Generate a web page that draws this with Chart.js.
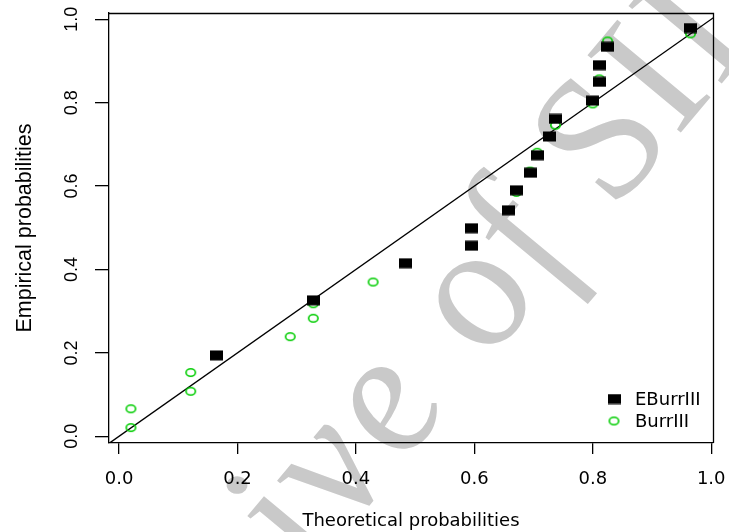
<!DOCTYPE html>
<html><head><meta charset="utf-8">
<script src="https://cdn.jsdelivr.net/npm/chart.js@4/dist/chart.umd.min.js"></script>
<style>html,body{margin:0;padding:0;background:#fff;} canvas{display:block;}</style>
</head><body>
<canvas id="c" width="729" height="532"></canvas>
<script>
// ---- data ----
const seriesNames = ['EBurrIII', 'BurrIII'];
const eburrX = [0.164, 0.328, 0.484, 0.595, 0.595, 0.658, 0.671, 0.694, 0.706, 0.727, 0.737, 0.800, 0.811, 0.811, 0.825, 0.965];
const eburrY = [0.194, 0.326, 0.415, 0.457, 0.499, 0.542, 0.590, 0.632, 0.674, 0.719, 0.761, 0.805, 0.850, 0.890, 0.934, 0.979];
const burrX = [0.020, 0.020, 0.121, 0.121, 0.289, 0.328, 0.328, 0.429, 0.671, 0.694, 0.706, 0.737, 0.800, 0.811, 0.825, 0.965];
const burrY = [0.021, 0.066, 0.108, 0.153, 0.239, 0.283, 0.318, 0.370, 0.585, 0.636, 0.681, 0.746, 0.797, 0.857, 0.948, 0.965];
const refLineX = [-0.05, 1.05];
const refLineY = [-0.05, 1.05];
const tickValues = [0, 0.2, 0.4, 0.6, 0.8, 1.0];
const tickLabels = ['0.0', '0.2', '0.4', '0.6', '0.8', '1.0'];
const xTitle = 'Theoretical probabilities';
const yTitle = 'Empirical probabilities';
const watermarkText = 'Archive of SID';

// ---- marker images ----
function makeSquare() {
  const c = document.createElement('canvas'); c.width = 13; c.height = 11;
  const g = c.getContext('2d'); g.fillStyle = '#000'; g.fillRect(0, 0.5, 13, 10); return c;
}
function makeRing() {
  const c = document.createElement('canvas'); c.width = 13; c.height = 11;
  const g = c.getContext('2d'); g.strokeStyle = '#00CD00'; g.lineWidth = 1.6;
  g.beginPath(); g.ellipse(6.5, 5.5, 4.7, 3.7, 0, 0, Math.PI * 2); g.stroke(); return c;
}
const sqImg = makeSquare();
const ringImg = makeRing();

const watermarkPlugin = {
  id: 'wm',
  beforeDraw(chart) {
    const ctx = chart.ctx;
    ctx.save();
    ctx.fillStyle = '#fff'; ctx.fillRect(0, 0, chart.width, chart.height);
    const size = 165;
    ctx.font = 'italic ' + size + 'px "Liberation Serif"';
    try { ctx.letterSpacing = '6px'; } catch (e) {}
    const wPre = ctx.measureText('Archive ').width;
    const wo = ctx.measureText('o').width;
    ctx.translate(483, 303);
    ctx.scale(1.2, 1);
    ctx.rotate(-55 * Math.PI / 180);
    ctx.fillStyle = '#c9c9c9';
    ctx.textBaseline = 'alphabetic';
    ctx.fillText(watermarkText, -(wPre + wo / 2 - 3), 0.45 * size / 2);
    ctx.restore();
  }
};

const boxPlugin = {
  id: 'box',
  beforeDatasetsDraw(chart) {
    const a = chart.chartArea, ctx = chart.ctx;
    ctx.save(); ctx.strokeStyle = '#000'; ctx.lineWidth = 1.3;
    ctx.beginPath();
    ctx.moveTo(a.left, a.top + 0.5); ctx.lineTo(a.right + 0.5, a.top + 0.5);
    ctx.lineTo(a.right + 0.5, a.bottom);
    ctx.stroke(); ctx.restore();
  }
};

const legendPlugin = {
  id: 'rlegend',
  afterDraw(chart) {
    const ctx = chart.ctx;
    ctx.save();
    ctx.drawImage(sqImg, 614 - 6.5, 399 - 5.5);
    ctx.drawImage(ringImg, 614 - 6.5, 421 - 5.5);
    ctx.fillStyle = '#000';
    ctx.font = '18px "DejaVu Sans"';
    ctx.textBaseline = 'middle'; ctx.textAlign = 'left';
    ctx.fillText(chart.data.datasets[0].label, 635, 400);
    ctx.fillText(chart.data.datasets[1].label, 635, 422);
    ctx.restore();
  }
};

function zeroPad(s) { s.paddingLeft = 0; s.paddingRight = 0; s.paddingTop = 0; s.paddingBottom = 0; }

new Chart(document.getElementById('c'), {
  type: 'scatter',
  data: {
    datasets: [
      { label: seriesNames[0], data: eburrX.map((x, i) => ({ x, y: eburrY[i] })),
        pointStyle: sqImg, pointRadius: 6, pointHoverRadius: 6 },
      { label: seriesNames[1], data: burrX.map((x, i) => ({ x, y: burrY[i] })),
        pointStyle: ringImg, pointRadius: 6, pointHoverRadius: 6 },
      { label: 'y = x', data: refLineX.map((x, i) => ({ x, y: refLineY[i] })),
        showLine: true, borderColor: '#000', borderWidth: 1.3, pointRadius: 0, fill: false }
    ]
  },
  options: {
    responsive: false, animation: false, devicePixelRatio: 1,
    layout: { padding: { left: 0, top: 13, right: 16, bottom: 0 } },
    plugins: { legend: { display: false }, tooltip: { enabled: false } },
    scales: {
      x: {
        type: 'linear', position: 'bottom', min: -0.017, max: 1.003,
        afterBuildTicks: s => { s.ticks = tickValues.map(v => ({ value: v })); },
        afterFit: s => { s.height = 89; zeroPad(s); },
        ticks: { callback: (v, i) => tickLabels[i], font: { family: 'DejaVu Sans', size: 18 }, color: '#000',
                 padding: 15, autoSkip: false, minRotation: 0, maxRotation: 0 },
        grid: { drawOnChartArea: false, drawTicks: true, tickLength: 11, color: '#000', lineWidth: 1.3 },
        border: { display: true, color: '#000', width: 1.3 },
        title: { display: true, text: xTitle, font: { family: 'DejaVu Sans', size: 18 }, color: '#000',
                 padding: { top: 0, bottom: 0 } }
      },
      y: {
        type: 'linear', position: 'left', min: -0.016, max: 1.015,
        afterBuildTicks: s => { s.ticks = tickValues.map(v => ({ value: v })); },
        afterFit: s => { s.width = 109; zeroPad(s); },
        ticks: { callback: (v, i) => tickLabels[i], font: { family: 'Liberation Sans', size: 18 }, color: '#000',
                 padding: 10, autoSkip: false, minRotation: 90, maxRotation: 90, crossAlign: 'center' },
        grid: { drawOnChartArea: false, drawTicks: true, tickLength: 14, color: '#000', lineWidth: 1.3 },
        border: { display: true, color: '#000', width: 1.3 },
        title: { display: true, text: yTitle, font: { family: 'Liberation Sans', size: 21.5 }, color: '#000',
                 padding: { top: 12, bottom: 0 } }
      }
    }
  },
  plugins: [watermarkPlugin, boxPlugin, legendPlugin]
});
</script>
</body></html>
